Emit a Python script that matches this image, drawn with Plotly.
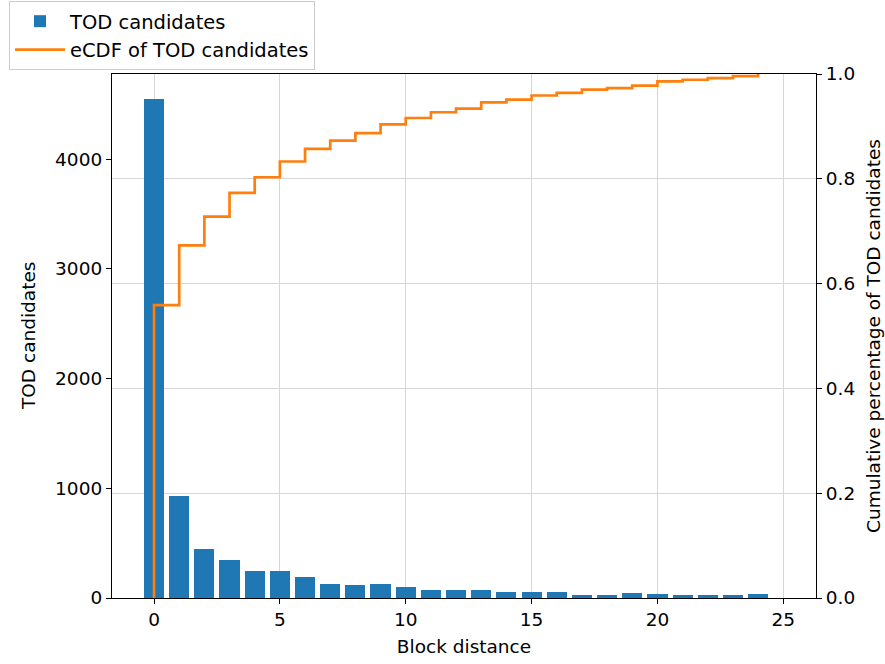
import plotly.graph_objects as go

# ---- data ----
block_distance = list(range(25))
tod_counts = [4550, 932, 443, 351, 249, 249, 194, 126, 117, 126,
              102, 77, 77, 77, 52, 52, 52, 25, 25, 49,
              37, 25, 25, 25, 37]
ecdf_values = [0.559, 0.673, 0.728, 0.773, 0.803, 0.833, 0.857, 0.873, 0.887, 0.904,
               0.916, 0.927, 0.934, 0.946, 0.951, 0.959, 0.964, 0.970, 0.973, 0.978,
               0.986, 0.989, 0.992, 0.996, 1.0]
x_ticks = [0, 5, 10, 15, 20, 25]
y_left_ticks = [0, 1000, 2000, 3000, 4000]
y_right_ticks = [0.0, 0.2, 0.4, 0.6, 0.8, 1.0]

FONT = "DejaVu Sans"
FS = 18.5
BLUE = "#1f77b4"
ORANGE = "#ff7f0e"
GRID = "#d6d6d6"

fig = go.Figure()
fig.add_trace(go.Bar(
    x=block_distance, y=tod_counts, width=0.8,
    marker=dict(color=BLUE, line=dict(width=0)),
    name="TOD candidates", yaxis="y",
))
fig.add_trace(go.Scatter(
    x=[block_distance[0]] + block_distance, y=[0.0] + ecdf_values,
    mode="lines", line=dict(color=ORANGE, width=2.7, shape="hv"),
    name="eCDF of TOD candidates", yaxis="y2",
))

axis_common = dict(
    showline=True, linecolor="black", linewidth=1.2,
    ticks="outside", ticklen=5, tickwidth=1.2, tickcolor="black",
    tickfont=dict(family=FONT, size=FS, color="black"),
    zeroline=False,
)

fig.update_layout(
    width=885, height=664,
    margin=dict(l=112, r=69, t=74, b=66, autoexpand=False),
    paper_bgcolor="white", plot_bgcolor="white",
    font=dict(family=FONT, size=FS, color="black"),
    bargap=0,
    xaxis=dict(
        **axis_common, mirror=True,
        range=[-1.67, 26.3], tickvals=x_ticks,
        showgrid=True, gridcolor=GRID, gridwidth=1,
        title=dict(text="Block distance", font=dict(family=FONT, size=FS, color="black"), standoff=10),
    ),
    yaxis=dict(
        **axis_common,
        range=[0, 4777.5], tickvals=y_left_ticks,
        showgrid=False,
    ),
    yaxis2=dict(
        **axis_common,
        overlaying="y", side="right",
        range=[0, 1.0], tickvals=y_right_ticks, tickformat=".1f",
        showgrid=True, gridcolor=GRID, gridwidth=1,
        title=dict(text="Cumulative percentage of TOD candidates",
                   font=dict(family=FONT, size=FS, color="black"), standoff=12),
    ),
    annotations=[dict(
        text="TOD candidates", textangle=-90,
        xref="paper", yref="paper", x=(28 - 112) / 704, y=0.5,
        xanchor="center", yanchor="middle", showarrow=False,
        font=dict(family=FONT, size=FS, color="black"),
    )],
    showlegend=True,
    legend=dict(
        xref="container", yref="container",
        x=9 / 885, y=1 - 1 / 664, xanchor="left", yanchor="top",
        bgcolor="white", bordercolor="#cccccc", borderwidth=1,
        font=dict(family=FONT, size=19.5, color="black"),
        traceorder="normal", itemwidth=50,
    ),
)

fig.write_html("out.html", config={"displayModeBar": False},
               post_script="document.body.style.margin='0';")
